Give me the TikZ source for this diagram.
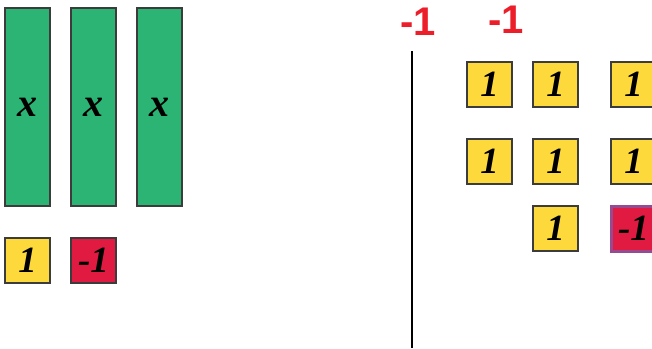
\documentclass[tikz,border=0pt]{standalone}
\usepackage{fontspec}
\setmainfont{Liberation Serif}
\newfontfamily\labelfont{Liberation Sans}
\definecolor{tilegreen}{RGB}{43,180,115}
\definecolor{tileyellow}{RGB}{253,217,60}
\definecolor{tilered}{RGB}{224,26,64}
\definecolor{labelred}{RGB}{236,30,42}
\definecolor{edgegray}{RGB}{60,60,60}
\definecolor{edgepurple}{RGB}{150,75,145}
\begin{document}
\begin{tikzpicture}[x=1pt,y=-1pt,
  tilebase/.style={draw=edgegray,line width=1.3pt,inner sep=0pt,outer sep=0pt,anchor=north west,
    font=\fontsize{37}{37}\selectfont\bfseries\itshape},
  xbar/.style={tilebase,fill=tilegreen,minimum width=45pt,minimum height=198pt,font=\fontsize{40}{40}\selectfont\bfseries\itshape},
  onetile/.style={tilebase,fill=tileyellow,minimum width=45pt,minimum height=45pt},
  negtile/.style={tilebase,fill=tilered,minimum width=45pt,minimum height=45pt},
  redlabel/.style={text=labelred,font=\fontsize{40}{40}\selectfont\labelfont\bfseries,inner sep=0pt,
    text height=29pt,text depth=0pt}]
\useasboundingbox (0,0) rectangle (652,348);
% left side
\node[xbar] (x1) at (5,8) {x};
\node[xbar] (x2) at (71,8) {x};
\node[xbar] (x3) at (137,8) {x};
\node[onetile] (p1) at (5,238) {1};
\node[negtile] (n1) at (71,238) {-1};
% divider
\coordinate (ltop) at (412,51);
\coordinate (lbot) at (412,348);
\draw[line width=2pt] (ltop) -- (lbot);
% labels
\node[redlabel] (l1) at (418,21) {-1};
\node[redlabel] (l2) at (506,18.5) {-1};
% right tiles
\node[onetile] (r11) at (467,62) {1};
\node[onetile] (r12) at (533,62) {1};
\node[onetile] (r13) at (611,62) {1};
\node[onetile] (r21) at (467,139) {1};
\node[onetile] (r22) at (533,139) {1};
\node[onetile] (r23) at (611,139) {1};
\node[onetile] (r32) at (533,206) {1};
\node[negtile,draw=edgepurple,line width=3pt] (r33) at (611,206) {-1};
\end{tikzpicture}
\end{document}
